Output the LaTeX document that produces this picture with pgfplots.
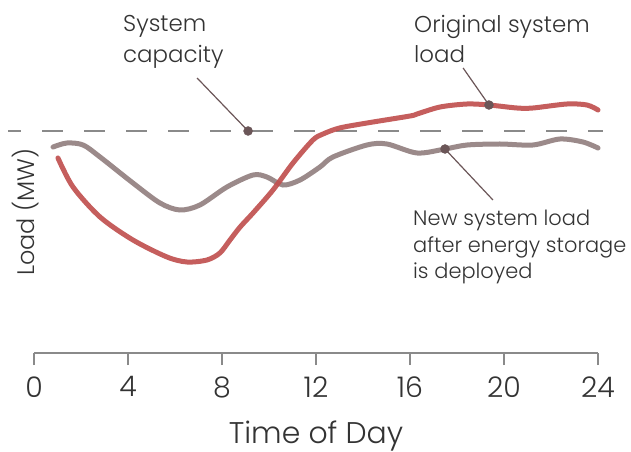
\documentclass[border=0pt]{standalone}
\usepackage{pgfplots}
\pgfplotsset{compat=1.18}
\usepackage{fontspec}
\IfFontExistsTF{Poppins Light}{\setmainfont{Poppins Light}}{\setmainfont{Poppins}}

\definecolor{loadred}{HTML}{C0504F}
\definecolor{newgray}{HTML}{9B8A8A}
\definecolor{dotbrown}{HTML}{6B5658}
\definecolor{dashgray}{HTML}{8A8A8A}
\definecolor{txt}{HTML}{333333}

\begin{document}
\begin{tikzpicture}
\useasboundingbox (-34bp,-99bp) rectangle (597bp,353bp);
\begin{axis}[
  scale only axis,
  width=564bp, height=353bp,
  xmin=0, xmax=24, ymin=0, ymax=353,
  axis x line*=bottom,
  axis y line=none,
  xtick={0,4,...,24}, ytick=\empty,
  tick align=outside,
  major tick length=12bp,
  x axis line style={dashgray, line width=1.4bp},
  xtick style={dashgray, line width=1.2bp},
  xticklabel style={font=\fontsize{28.5}{28.5}\selectfont, text=txt, yshift=-8bp},
  /pgf/number format/assume math mode=true,
  xlabel={Time of Day},
  xlabel style={font=\fontsize{30}{30}\selectfont, text=txt,
    at={(axis description cs:0.5,0)}, anchor=base, yshift=-90bp},
  clip=false,
]
% system capacity
\addplot[dashgray, line width=1.8bp, dash pattern=on 21bp off 21bp, dash phase=8bp]
  coordinates {(-1.106,222) (24.21,222)};
% new system load
\addplot[newgray, line width=5bp, line cap=round, smooth, tension=0.5]
  coordinates {
  (0.81,206) (1.40,210) (2.09,208) (2.81,196) (4.21,170) (5.36,150)
  (6.21,143) (7.06,148) (8.21,166) (9.32,178) (9.91,176) (10.6,168)
  (11.32,173) (12.17,186) (12.72,196) (14.17,208) (15.02,209) (16.3,200)
  (17.49,204) (18.43,208) (19.83,209) (21.23,208) (22.38,214) (23.36,211)
  (24.0,205)};
% original system load
\addplot[loadred, opacity=0.92, line width=5bp, line cap=round, smooth, tension=0.5]
  coordinates {
  (1.02,195) (1.66,166) (2.81,136) (4.21,113) (5.66,96) (6.51,91)
  (7.36,93) (7.91,100) (8.34,113) (8.77,126) (9.32,140) (10.17,163)
  (11.02,190) (11.87,213) (12.3,219) (13.0,225) (14.17,230) (16.0,237)
  (16.3,239) (17.28,246) (18.43,249) (19.36,248) (20.55,245) (21.23,245)
  (22.68,249) (23.53,248) (24.0,243)};
% callout lines
\addplot[dotbrown, line width=1.2bp] coordinates {(6.94,275) (9.11,222)};
\addplot[dotbrown, line width=1.2bp] coordinates {(18.26,285) (19.36,248)};
\addplot[dotbrown, line width=1.2bp] coordinates {(17.49,204) (19.53,153)};
% callout dots
\addplot[only marks, mark=*, mark size=4.5bp, dotbrown]
  coordinates {(9.11,222) (19.36,248) (17.49,204)};
\end{axis}
\node[rotate=90, font=\fontsize{24}{24}\selectfont, text=txt] at (-8bp,141bp) {Load (MW)};
\node[anchor=north west, inner sep=0pt, align=left, text=txt,
  font=\fontsize{23}{31}\selectfont] at (89bp,338bp) {System\\capacity};
\node[anchor=north west, inner sep=0pt, align=left, text=txt,
  font=\fontsize{23}{30}\selectfont] at (380bp,338bp) {Original system\\load};
\node[anchor=north west, inner sep=0pt, align=left, text=txt,
  font=\fontsize{21}{26.5}\selectfont] at (379bp,143bp) {New system load\\after energy storage\\is deployed};
\end{tikzpicture}
\end{document}
